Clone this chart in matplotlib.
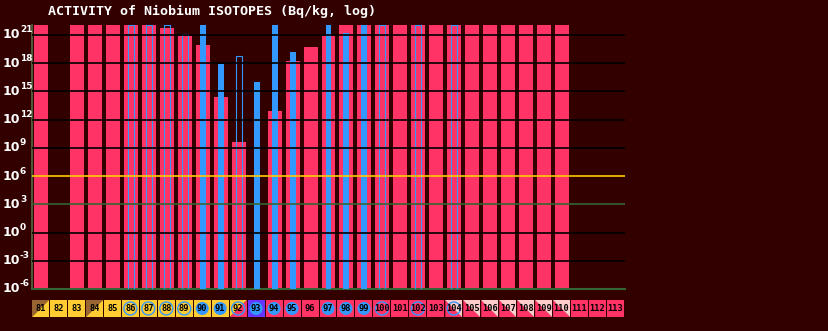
import numpy as np
import matplotlib
matplotlib.use("Agg")
import matplotlib.pyplot as plt
from matplotlib.patches import Rectangle, Polygon, Ellipse
from matplotlib.transforms import blended_transform_factory

# ---------------- data ----------------
mass_numbers = list(range(81, 114))
TOP = 1.1e22  # bars reaching beyond the top of the chart
# ground-state activity (Bq/kg); None = no bar
ground = [TOP, None, TOP, TOP, TOP, TOP, TOP, 10**21.74, 10**20.93, 10**19.94,
          10**14.43, 10**9.65, None, 10**12.94, 10**18.24, 10**19.73, 10**20.93,
          TOP, TOP, TOP, TOP, TOP, TOP, TOP, TOP, TOP, TOP, TOP, TOP, TOP,
          None, None, None]
# isomer activity (Bq/kg); None = no isomer
isomer = [None, None, None, None, None, TOP, TOP, TOP, 10**21.1, TOP,
          10**17.96, 10**18.74, 10**16.05, TOP, 10**19.2, None, TOP,
          10**21.2, TOP, TOP, None, TOP, None, TOP, None, None, None, None,
          None, None, None, None, None]
# isomer drawn filled (True) or hollow (False)
isomer_filled = [False, False, False, False, False, False, False, False, False, True,
                 True, False, True, True, True, False, True,
                 True, True, False, False, False, False, False, False, False, False,
                 False, False, False, False, False, False]
# label-box colours: primary colour, secondary colour or None
box_primary = ["brown", "yellow", "yellow", "brown", "yellow", "yellow", "yellow",
               "yellow", "yellow", "yellow", "yellow", "yellow", "purple", "red",
               "red", "red", "red", "red", "red", "red", "red", "red", "red",
               "red", "red", "red", "red", "red", "red", "red", "red", "red", "red"]
box_secondary = ["yellow", None, None, "yellow", None, None, None, None, None, None,
                 None, "red", None, None, None, None, None, None, None, None, None,
                 None, None, "pink", "pink", "pink", "pink", "pink", "pink", "pink",
                 None, None, None]
# marker in box: 'filled', 'hollow' or None
box_marker = [None, None, None, None, None, "hollow", "hollow", "hollow", "hollow",
              "filled", "filled", "hollow", "filled", "filled", "filled", None,
              "filled", "filled", "filled", "hollow", None, "hollow", None, "hollow",
              None, None, None, None, None, None, None, None, None]

title = "ACTIVITY of Niobium ISOTOPES (Bq/kg, log)"
ytick_exps = [-6, -3, 0, 3, 6, 9, 12, 15, 18, 21]

# ---------------- style ----------------
BG = "#330000"
RED = "#ff3366"
BLUE = "#3399ff"
COLORS = {"brown": "#996633", "yellow": "#ffcc33", "purple": "#6633ff",
          "red": "#ff3366", "pink": "#ffcccc"}

W, H = 829, 331
fig = plt.figure(figsize=(W / 100, H / 100), dpi=100, facecolor=BG)

x0, x1 = 32, 625
ytop, ybot = 25, 289
ax = fig.add_axes([x0 / W, 1 - ybot / H, (x1 - x0) / W, (ybot - ytop) / H])
ax.set_facecolor(BG)
ax.set_yscale("log")
ax.set_xlim(80.5, 113.5)
ax.set_ylim(1e-6, 10**22.06)

xs = np.array(mass_numbers, dtype=float)
g = np.array([np.nan if v is None else v for v in ground])
ax.bar(xs, g - 1e-6, bottom=1e-6, width=14 / 18, color=RED, linewidth=0, zorder=2)

iso = np.array([np.nan if v is None else v for v in isomer])
filled = np.array(isomer_filled)
fmask = filled & ~np.isnan(iso)
hmask = (~filled) & ~np.isnan(iso)
ax.bar(xs[fmask], iso[fmask] - 1e-6, bottom=1e-6, width=6 / 18, color=BLUE,
       linewidth=0, zorder=3)
ax.bar(xs[hmask], iso[hmask] - 1e-6, bottom=1e-6, width=6 / 18, facecolor="none",
       edgecolor=BLUE, linewidth=0.8, zorder=3)

# grid lines
for e in ytick_exps:
    if e == -6:
        continue
    if e == 6:
        c = "#ffcc00"
    elif e == 3:
        c = "#336633"
    else:
        c = "#000000"
    ax.axhline(10.0**e, color=c, linewidth=1.2, zorder=4)

ax.set_yticks([])
ax.yaxis.set_minor_locator(matplotlib.ticker.NullLocator())
ax.set_xticks([])
for s in ["top", "right"]:
    ax.spines[s].set_visible(False)
ax.spines["left"].set_color("#556b44")
ax.spines["bottom"].set_color("#336633")
ax.spines["left"].set_linewidth(1.2)
ax.spines["bottom"].set_linewidth(1.5)

# y tick labels: "10" plus raised exponent, left-aligned at the figure edge
tr = blended_transform_factory(fig.transFigure, ax.transData)
for e in ytick_exps:
    ax.text(3 / W, 10.0**e, "10", transform=tr, color="white", fontsize=9,
            fontweight="bold", ha="left", va="center", clip_on=False)
    ax.annotate(str(e).replace("\u2212", "-"), xy=(20 / W, 10.0**e),
                xycoords=tr, xytext=(0, 5), textcoords="offset pixels",
                color="white", fontsize=6.5, fontweight="bold",
                ha="left", va="center", annotation_clip=False)

fig.text(48 / W, 1 - 11 / H, title, color="white", fontsize=9.6,
         family="DejaVu Sans Mono", fontweight="bold", va="center", ha="left")

# label boxes
lb_top, lb_bot = 300, 317
lax = fig.add_axes([x0 / W, 1 - lb_bot / H, (x1 - x0) / W, (lb_bot - lb_top) / H])
lax.set_xlim(80.5, 113.5)
lax.set_ylim(0, 1)
lax.axis("off")
for i, m in enumerate(mass_numbers):
    l, r = m - 0.5, m + 0.5 - 1 / 18
    p = COLORS[box_primary[i]]
    s = box_secondary[i]
    if s is None:
        lax.add_patch(Rectangle((l, 0), r - l, 1, facecolor=p, linewidth=0))
    elif box_primary[i] == "red" and s == "pink":
        lax.add_patch(Polygon([(l, 0), (r, 0), (l, 1)], closed=True,
                              facecolor=COLORS["red"], linewidth=0))
        lax.add_patch(Polygon([(l, 1), (r, 1), (r, 0)], closed=True,
                              facecolor=COLORS["pink"], linewidth=0))
    else:
        lax.add_patch(Polygon([(l, 0), (l, 1), (r, 1)], closed=True,
                              facecolor=p, linewidth=0))
        lax.add_patch(Polygon([(l, 0), (r, 0), (r, 1)], closed=True,
                              facecolor=COLORS[s], linewidth=0))
    cx = (l + r) / 2
    mk = box_marker[i]
    if mk == "filled":
        lax.add_patch(Ellipse((cx, 0.5), 13 / 18, 13 / 17, facecolor=BLUE,
                              linewidth=0))
    elif mk == "hollow":
        lax.add_patch(Ellipse((cx, 0.5), 13 / 18, 13 / 17, facecolor="none",
                              edgecolor=BLUE, linewidth=1.0))
    lax.text(cx, 0.48, str(m), color="black", fontsize=6.2, fontweight="bold",
             family="DejaVu Sans Mono", ha="center", va="center")

fig.savefig("out.png", dpi=100, facecolor=BG)
